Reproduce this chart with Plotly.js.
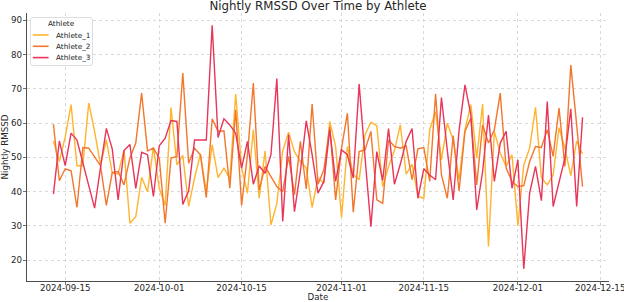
<!DOCTYPE html>
<html>
<head>
<meta charset="utf-8">
<script src="https://cdn.plot.ly/plotly-3.0.1.min.js"></script>
<style>html,body{margin:0;padding:0;background:#fff;}#chart{width:624px;height:302px;}</style>
</head>
<body>
<div id="chart"></div>
<script>
// First night of the recording period (one reading per night from here on)
const startDate = '2024-09-13';

const athleteNames = ['Athlete_1', 'Athlete_2', 'Athlete_3'];

const athlete1 = [54.8, 48.8, 56, 65.4, 47.6, 47.6, 65.9, 57.6, 47.8, 55.1,
  45.4, 45.2, 52.2, 30.8, 32.7, 44.2, 40, 53, 41, 36,
  64.6, 47.8, 50.6, 35.7, 44, 51, 39.9, 53.7, 44.1, 46.9,
  43.9, 68.5, 47, 39.6, 58.1, 38.1, 51.9, 30.3, 36.6, 51.9,
  57.4, 51.7, 48.8, 46.9, 35.4, 44.1, 42.5, 60.5, 53.2, 32.5,
  53.2, 45, 43.5, 56.6, 60.3, 59.3, 41.5, 47.4, 52, 59.5,
  45.1, 48, 38.6, 38.1, 58.1, 63.4, 49.3, 60, 55.1, 43.5,
  58.1, 65.4, 49.8, 65.6, 24, 57.6, 51.2, 47.4, 50.8, 30.1,
  47.8, 52.7, 64.6, 44.1, 42, 44.9, 58.7, 52.7, 44.7, 54.8, 51];

const athlete2 = [59.7, 43.2, 46.7, 46.1, 35.4, 52.9, 52.7, 50.3, 47.6, 36,
  45.6, 45.9, 42, 49.8, 54.2, 68.8, 51.9, 52.7, 49.8, 30.8,
  49.8, 50.3, 74.6, 48.3, 52.7, 50.8, 38.3, 61.3, 57.6, 57.8,
  41, 63.9, 36, 50.8, 71.7, 40.5, 47.4, 44.4, 41.5, 40,
  50.3, 39.1, 54.7, 40.8, 65.6, 42.2, 46.4, 59, 37.6, 52.7,
  62.9, 34, 51.7, 52.2, 57.6, 37.6, 36.6, 55.1, 53.2, 52.7,
  53.4, 43.5, 52.5, 52.9, 43, 68.6, 44.9, 38.1, 56.4, 40.2,
  57.6, 61.5, 42, 59.5, 54.2, 58.1, 68.8, 46.9, 43, 41.5,
  41.8, 48.8, 53.2, 52.9, 58.1, 50.3, 64.4, 47.4, 77, 59.5, 41.5];

const athlete3 = [39.3, 54.8, 47.6, 57.1, 55.1, 48.5, 42, 35.2, 47, 58.5,
  52.5, 37.6, 52, 53.8, 41, 51.5, 50.8, 38.6, 53.4, 55.6,
  60.8, 60.5, 36.3, 40.3, 55.1, 55.1, 55.1, 88.6, 55.8, 61.3,
  59.5, 57, 46.9, 54.7, 42.2, 47.5, 45.4, 50.8, 73, 31.3,
  56.6, 34.2, 45.9, 60.7, 50.8, 39.6, 43, 58.1, 43, 52.2,
  50.8, 44, 71.4, 50, 29.8, 51.7, 43.3, 58.4, 42.2, 48,
  54.7, 58.4, 38.1, 46.7, 44.9, 43.5, 67.5, 52, 37.6, 58,
  71.2, 62.4, 34.7, 45.9, 62.4, 43, 54.2, 57.6, 41, 49.3,
  17.5, 39.6, 47.4, 37.4, 66.3, 35.7, 42.5, 49.8, 64.2, 35.7, 61.7];

const xTickDates = ['2024-09-15', '2024-10-01', '2024-10-15', '2024-11-01', '2024-11-15', '2024-12-01', '2024-12-15'];
const yTickValues = [20, 30, 40, 50, 60, 70, 80, 90];
const legendTitle = 'Athlete';

// consecutive nightly dates
function nightlyDates(start, n) {
  const [y, m, d] = start.split('-').map(Number);
  const out = [];
  for (let i = 0; i < n; i++) {
    out.push(new Date(Date.UTC(y, m - 1, d + i)).toISOString().slice(0, 10));
  }
  return out;
}
const dates = nightlyDates(startDate, athlete1.length);

const colors = ['#FFB42E', '#F2772C', '#E8355A'];
const series = [athlete1, athlete2, athlete3];

const traces = series.map((vals, i) => ({
  type: 'scatter',
  mode: 'lines',
  name: athleteNames[i],
  x: dates,
  y: vals,
  line: {color: colors[i], width: 1.4}
}));

// ---- geometry of the plot area (pixels) ----
const W = 624, H = 302;
const M = {l: 27, r: 15, t: 13, b: 21};
const PW = W - M.l - M.r, PH = H - M.t - M.b;
const px = v => (v - M.l) / PW;          // pixel x -> paper x
const py = v => 1 - (v - M.t) / PH;      // pixel y -> paper y

// ---- custom legend (matplotlib-like compact box) ----
const shapes = [];
const annotations = [];
const box = {x0: 30.5, x1: 92.5, y0: 17.5, y1: 65.5, r: 2.5};
const rx = box.r / PW, ry = box.r / PH;
const bx0 = px(box.x0), bx1 = px(box.x1), by0 = py(box.y1), by1 = py(box.y0);
shapes.push({
  type: 'path', xref: 'paper', yref: 'paper',
  path: `M${bx0 + rx},${by1} L${bx1 - rx},${by1} Q${bx1},${by1} ${bx1},${by1 - ry} ` +
        `L${bx1},${by0 + ry} Q${bx1},${by0} ${bx1 - rx},${by0} L${bx0 + rx},${by0} ` +
        `Q${bx0},${by0} ${bx0},${by0 + ry} L${bx0},${by1 - ry} Q${bx0},${by1} ${bx0 + rx},${by1} Z`,
  fillcolor: 'rgba(255,255,255,0.85)',
  line: {color: '#d6d6d6', width: 0.8},
  layer: 'above'
});
annotations.push({
  xref: 'paper', yref: 'paper', x: px(61.5), y: py(23.8),
  xanchor: 'center', yanchor: 'middle', showarrow: false,
  text: legendTitle, font: {size: 7.3, color: '#262626'}
});
const rowY = [35.0, 46.3, 57.6];
athleteNames.forEach((name, i) => {
  shapes.push({
    type: 'line', xref: 'paper', yref: 'paper',
    x0: px(32.8), x1: px(48.6), y0: py(rowY[i]), y1: py(rowY[i]),
    line: {color: colors[i], width: 1.6}, layer: 'above'
  });
  annotations.push({
    xref: 'paper', yref: 'paper', x: px(53.5), y: py(rowY[i]),
    xanchor: 'left', yanchor: 'middle', showarrow: false,
    text: name, font: {size: 7.3, color: '#262626'}
  });
});

const font = 'DejaVu Sans, sans-serif';
const layout = {
  width: W,
  height: H,
  margin: {l: M.l, r: M.r, t: M.t, b: M.b, pad: 0},
  paper_bgcolor: '#fff',
  plot_bgcolor: '#fff',
  font: {family: font, color: '#262626', size: 8.7},
  title: {
    text: 'Nightly RMSSD Over Time by Athlete',
    font: {family: font, size: 11.8, color: '#262626'},
    x: 0.5, xref: 'paper', xanchor: 'center',
    y: 1 - 6 / 302, yref: 'container', yanchor: 'middle'
  },
  xaxis: {
    type: 'date',
    range: ['2024-09-08 12:00', '2024-12-16 12:00'],
    tickvals: xTickDates,
    tickformat: '%Y-%m-%d',
    ticklabeloverflow: 'allow',
    ticklabelstandoff: -5,
    showgrid: true,
    gridcolor: '#cfcfcf',
    griddash: 'dot',
    gridwidth: 0.8,
    showline: true,
    linecolor: '#4d4d4d',
    linewidth: 1.3,
    mirror: false,
    ticks: 'outside',
    ticklen: 3,
    tickwidth: 0.8,
    tickcolor: '#4d4d4d',
    tickfont: {size: 8.7, color: '#262626'},
    zeroline: false,
    automargin: false,
    title: {text: 'Date', font: {size: 8.7, color: '#262626'}, standoff: 1}
  },
  yaxis: {
    range: [13.95, 92.15],
    tickvals: yTickValues,
    ticklabelstandoff: -1,
    showgrid: true,
    gridcolor: '#cfcfcf',
    griddash: 'dot',
    gridwidth: 0.8,
    showline: true,
    linecolor: '#4d4d4d',
    linewidth: 1.3,
    mirror: false,
    ticks: 'outside',
    ticklen: 3,
    tickwidth: 0.8,
    tickcolor: '#4d4d4d',
    tickfont: {size: 8.7, color: '#262626'},
    zeroline: false,
    automargin: false,
    title: {text: 'Nightly RMSSD', font: {size: 8.7, color: '#262626'}, standoff: 2}
  },
  showlegend: false,
  shapes: shapes,
  annotations: annotations
};

Plotly.newPlot('chart', traces, layout, {staticPlot: true, displayModeBar: false});
</script>
</body>
</html>
